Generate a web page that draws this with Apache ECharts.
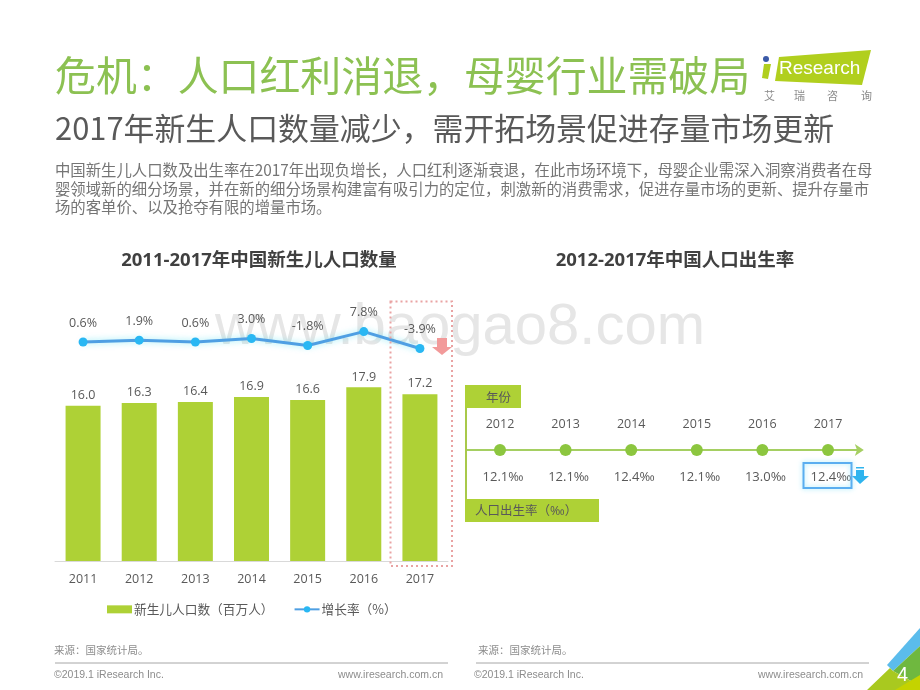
<!DOCTYPE html>
<html>
<head>
<meta charset="utf-8">
<style>html,body{margin:0;padding:0;background:#fff}#main{width:920px;height:690px}</style>
<script src="https://cdn.jsdelivr.net/npm/echarts@6/dist/echarts.min.js"></script>
</head>
<body>
<div id="main"></div>
<script>
var years = ['2011', '2012', '2013', '2014', '2015', '2016', '2017'];
var births = [16.0, 16.3, 16.4, 16.9, 16.6, 17.9, 17.2];
var growth = [0.6, 1.9, 0.6, 3.0, -1.8, 7.8, -3.9];
var rateYears = ['2012', '2013', '2014', '2015', '2016', '2017'];
var birthRate = [12.1, 12.1, 12.4, 12.1, 13.0, 12.4];

var cjk = '"Noto Sans CJK SC"';
var mixed = '"Open Sans","Noto Sans CJK SC"';
var textGray = '#595959';
var lime = '#aed136';

function text(x, y, str, size, color, extra) {
  var style = { x: x, y: y, text: str, fontSize: size, fontFamily: cjk, fill: color, align: 'left', verticalAlign: 'middle' };
  for (var k in extra) style[k] = extra[k];
  return { type: 'text', z: 20, style: style, silent: true };
}
function poly(points, color, z) {
  return { type: 'polygon', z: z || 5, shape: { points: points }, style: { fill: color }, silent: true };
}

var watermark = text(215, 328, 'www.baogao8.com', 58, '#e6e6e6', { fontFamily: '"Liberation Sans"' });
watermark.z = 0;

var myChart = echarts.init(document.getElementById('main'));
var option = {
  animation: false,
  backgroundColor: '#fff',
  textStyle: { fontFamily: mixed },
  title: [
    { text: '2011-2017年中国新生儿人口数量', left: 254, top: 246, textAlign: 'center',
      textStyle: { fontSize: 18.5, fontWeight: 'bold', color: '#404040', fontFamily: mixed } },
    { text: '2012-2017年中国人口出生率', left: 670, top: 246, textAlign: 'center',
      textStyle: { fontSize: 18.5, fontWeight: 'bold', color: '#404040', fontFamily: mixed } }
  ],
  legend: {
    left: 102, top: 598, itemGap: 20, itemWidth: 25, itemHeight: 8,
    textStyle: { fontSize: 12.7, color: textGray, fontFamily: cjk, padding: [0, 0, 0, -3] },
    data: [
      { name: '新生儿人口数（百万人）', icon: 'rect' },
      { name: '增长率（%）' }
    ]
  },
  grid: [
    { left: 55, width: 393, top: 367, height: 194 },
    { left: 55, width: 393, top: 299.4, height: 58 },
    { left: 467.2, width: 393.6, top: 440, height: 20 }
  ],
  xAxis: [
    { type: 'category', gridIndex: 0, data: years,
      axisLine: { lineStyle: { color: '#d9d9d9' } }, axisTick: { show: false },
      axisLabel: { color: textGray, fontSize: 12.5, margin: 12 } },
    { type: 'category', gridIndex: 1, data: years, show: false },
    { type: 'category', gridIndex: 2, data: rateYears, position: 'top',
      axisLine: { onZero: true, symbol: ['none', 'arrow'], symbolSize: [9, 9], symbolOffset: [0, 3],
        lineStyle: { color: '#a5cf62', width: 2 } },
      axisTick: { show: false },
      axisLabel: { color: textGray, fontSize: 12.5, margin: 9 } }
  ],
  yAxis: [
    { type: 'value', gridIndex: 0, min: 0, max: 20, show: false },
    { type: 'value', gridIndex: 1, min: -10, max: 30, show: false },
    { type: 'value', gridIndex: 2, min: -1, max: 1, show: false }
  ],
  series: [
    { name: '新生儿人口数（百万人）', type: 'bar', xAxisIndex: 0, yAxisIndex: 0, data: births,
      barWidth: 35, itemStyle: { color: lime },
      label: { show: true, position: 'top', distance: 4, fontSize: 12.5, color: textGray,
        formatter: function (p) { return p.value.toFixed(1); } } },
    { name: '增长率（%）', type: 'line', xAxisIndex: 1, yAxisIndex: 1, data: growth,
      symbol: 'circle', symbolSize: 9, showAllSymbols: true,
      lineStyle: { color: '#4f9fe3', width: 3, shadowColor: 'rgba(60,220,240,0.55)', shadowBlur: 6 },
      itemStyle: { color: '#29b7f3' },
      label: { show: true, position: 'top', distance: 8, fontSize: 12.5, color: textGray,
        formatter: function (p) { return p.value.toFixed(1) + '%'; } } },
    { name: '出生率', type: 'scatter', xAxisIndex: 2, yAxisIndex: 2,
      data: birthRate.map(function (v) { return { value: 0, rate: v }; }),
      symbolSize: 12, itemStyle: { color: '#8cc63f', opacity: 1 },
      label: { show: true, position: 'bottom', distance: 15, offset: [3, 0], fontSize: 13, color: textGray,
        formatter: function (p) { return p.data.rate.toFixed(1) + '‰'; } } }
  ],
  graphic: { elements: [
    watermark,

    // header
    text(55, 75, '危机：人口红利消退，母婴行业需破局', 40.9, '#8cc152'),
    text(55, 128, '2017年新生人口数量减少，需开拓场景促进存量市场更新', 30.9, '#595959'),
    text(55, 170, '中国新生儿人口数及出生率在2017年出现负增长，人口红利逐渐衰退，在此市场环境下，母婴企业需深入洞察消费者在母', 15.37, '#757575'),
    text(55, 189, '婴领域新的细分场景，并在新的细分场景构建富有吸引力的定位，刺激新的消费需求，促进存量市场的更新、提升存量市', 15.37, '#757575'),
    text(55, 207, '场的客单价、以及抢夺有限的增量市场。', 15.37, '#757575'),

    // logo
    poly([[779, 57], [871, 50], [862, 85], [775, 81]], '#b1cf1e'),
    poly([[764, 64], [771, 64], [768, 79], [762, 78]], '#b1cf1e'),
    { type: 'circle', z: 6, shape: { cx: 766, cy: 59, r: 3 }, style: { fill: '#3b5aa8' }, silent: true },
    text(779, 69, 'Research', 19, '#fff', { fontFamily: '"Liberation Sans"' }),
    text(764, 96, '艾', 11, '#8a8a8a'),
    text(794, 96, '瑞', 11, '#8a8a8a'),
    text(827, 96, '咨', 11, '#8a8a8a'),
    text(861, 96, '询', 11, '#8a8a8a'),

    // 2017 highlight on the left chart
    { type: 'rect', z: 12, shape: { x: 390.5, y: 301.5, width: 61.5, height: 264.5 },
      style: { fill: 'none', stroke: '#e9a3a3', lineWidth: 2, lineDash: [2, 3] }, silent: true },
    poly([[437, 338], [447, 338], [447, 347], [452, 347], [442, 355], [432, 347], [437, 347]], '#f29a9a', 13),

    // year / rate tags on the right chart
    { type: 'line', z: 5, shape: { x1: 466, y1: 385, x2: 466, y2: 515 }, style: { stroke: '#a9c94a', lineWidth: 2 }, silent: true },
    { type: 'rect', z: 6, shape: { x: 465, y: 385, width: 56, height: 23 }, style: { fill: lime }, silent: true },
    { type: 'rect', z: 6, shape: { x: 465, y: 499, width: 134, height: 23 }, style: { fill: lime }, silent: true },
    text(486, 397, '年份', 12.5, '#595959'),
    text(475, 511, '人口出生率（‰）', 12.5, '#595959', { fontFamily: mixed }),

    // 2017 rate highlight
    { type: 'rect', z: 12, shape: { x: 803.5, y: 463, width: 48, height: 25 },
      style: { fill: 'none', stroke: '#5aaef0', lineWidth: 2, shadowColor: 'rgba(90,220,250,0.6)', shadowBlur: 5 }, silent: true },
    poly([[856, 470], [864, 470], [864, 476], [869, 476], [860, 484], [852, 476], [856, 476]], '#2fb4ee', 13),
    { type: 'rect', z: 13, shape: { x: 856, y: 467, width: 8, height: 1.5 }, style: { fill: '#2fb4ee' }, silent: true },

    // footer
    text(54, 650, '来源：国家统计局。', 10.5, '#8c8c8c'),
    text(478, 650, '来源：国家统计局。', 10.5, '#8c8c8c'),
    { type: 'line', z: 5, shape: { x1: 55, y1: 663, x2: 448, y2: 663 }, style: { stroke: '#a6a6a6', lineWidth: 1 }, silent: true },
    { type: 'line', z: 5, shape: { x1: 476, y1: 663, x2: 869, y2: 663 }, style: { stroke: '#a6a6a6', lineWidth: 1 }, silent: true },
    text(54, 675, '©2019.1 iResearch Inc.', 10.5, '#8c8c8c', { fontFamily: '"Liberation Sans"' }),
    text(474, 675, '©2019.1 iResearch Inc.', 10.5, '#8c8c8c', { fontFamily: '"Liberation Sans"' }),
    text(443, 675, 'www.iresearch.com.cn', 10.5, '#8c8c8c', { fontFamily: '"Liberation Sans"', align: 'right' }),
    text(863, 675, 'www.iresearch.com.cn', 10.5, '#8c8c8c', { fontFamily: '"Liberation Sans"', align: 'right' }),

    // corner and page number
    poly([[920, 628], [887, 665], [893, 671], [920, 646]], '#5bbcec'),
    poly([[920, 646], [893, 671], [920, 686]], '#6fb83f'),
    poly([[867, 690], [890, 668], [893, 671], [920, 686], [920, 690]], '#a9c91f'),
    poly([[895, 690], [920, 675], [920, 690]], '#c4d300', 6),
    text(897, 675, '4', 20, '#fff', { fontFamily: '"Liberation Sans"' })
  ] }
};
myChart.setOption(option);
</script>
</body>
</html>
